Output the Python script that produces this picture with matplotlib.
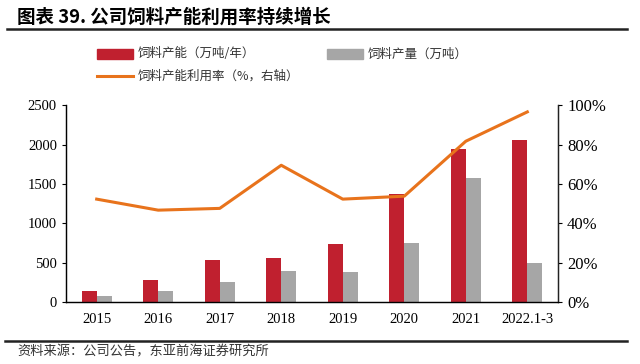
import matplotlib
matplotlib.use('Agg')
import matplotlib.pyplot as plt
import numpy as np
from matplotlib.patches import Rectangle
from matplotlib.lines import Line2D

plt.rcParams['font.family'] = ['Noto Sans CJK SC', 'DejaVu Sans']

# 数据
years = ['2015', '2016', '2017', '2018', '2019', '2020', '2021', '2022.1-3']
capacity = [143, 283, 529, 562, 732, 1367, 1942, 2052]   # 饲料产能（万吨/年）
output = [80, 140, 258, 393, 385, 745, 1582, 499]        # 饲料产量（万吨）
util_rate = [52.3, 46.7, 47.6, 69.5, 52.3, 53.8, 81.7, 96.6]  # 利用率 %

red = '#C0202F'
gray = '#A6A6A6'
orange = '#E8731C'
serif = 'Liberation Serif'

fig = plt.figure(figsize=(6.4, 3.64), dpi=100)
ax = fig.add_axes([0.103, 0.170, 0.769, 0.541])

x = np.arange(len(years))
w = 0.245
ax.bar(x - w / 2, capacity, width=w, color=red)
ax.bar(x + w / 2, output, width=w, color=gray)
ax.set_xlim(-0.5, len(years) - 0.5)
ax.set_ylim(0, 2500)
ax.set_yticks(range(0, 2501, 500))
ax.set_xticks(x)
ax.set_xticklabels(years, fontfamily=serif, fontsize=10.5)
ax.tick_params(axis='x', length=0, pad=8)
ax.tick_params(axis='y', length=3, labelsize=10.5)
for lab in ax.get_yticklabels():
    lab.set_fontfamily(serif)
ax.spines['top'].set_visible(False)
for s in ['left', 'bottom', 'right']:
    ax.spines[s].set_linewidth(1.0)
    ax.spines[s].set_color('#222222')

ax2 = ax.twinx()
ax2.plot(x, util_rate, color=orange, lw=2.2)
ax2.set_ylim(0, 100)
ax2.set_yticks(range(0, 101, 20))
ax2.set_yticklabels([f'{v}%' for v in range(0, 101, 20)], fontfamily=serif, fontsize=12)
ax2.tick_params(axis='y', length=3)
ax2.spines['top'].set_visible(False)
ax2.spines['right'].set_color('#222222')

# 标题与分隔线
fig.text(0.027, 0.953, '图表 39. 公司饲料产能利用率持续增长', fontsize=13.3, fontweight='bold',
         va='center', ha='left')
fig.add_artist(Line2D([0.011, 0.980], [0.919, 0.919], color='#222222', lw=1.8))
fig.add_artist(Line2D([0.008, 0.980], [0.062, 0.062], color='#222222', lw=1.8))
fig.text(0.027, 0.033, '资料来源：公司公告，东亚前海证券研究所', fontsize=9.5, va='center', ha='left',
         color='#333333')

# 图例
fig.add_artist(Rectangle((0.152, 0.838), 0.056, 0.027, color=red, transform=fig.transFigure))
fig.text(0.215, 0.852, '饲料产能（万吨/年）', fontsize=9, va='center', color='#333333')
fig.add_artist(Rectangle((0.511, 0.838), 0.056, 0.027, color=gray, transform=fig.transFigure))
fig.text(0.575, 0.852, '饲料产量（万吨）', fontsize=9, va='center', color='#333333')
fig.add_artist(Line2D([0.152, 0.208], [0.791, 0.791], color=orange, lw=2.2))
fig.text(0.215, 0.791, '饲料产能利用率（%，右轴）', fontsize=9, va='center', color='#333333')

fig.savefig('out.png', dpi=100)
